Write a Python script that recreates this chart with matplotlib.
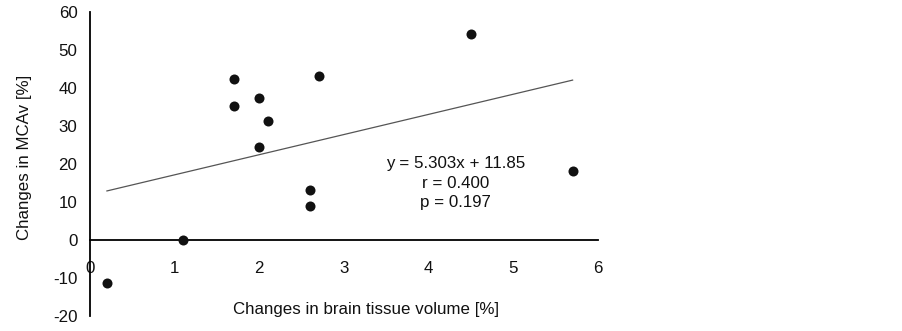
import matplotlib
matplotlib.use("Agg")
import matplotlib.pyplot as plt
import numpy as np

plt.rcParams['font.family'] = ['Liberation Sans', 'DejaVu Sans']
plt.rcParams['axes.unicode_minus'] = False

brain_volume = [0.2, 1.1, 1.7, 1.7, 2.0, 2.0, 2.1, 2.6, 2.6, 2.7, 4.5, 5.7]
mcav = [-11.3, 0.0, 42.3, 35.2, 37.3, 24.6, 31.2, 13.1, 9.0, 43.2, 54.3, 18.1]
slope = 5.303
intercept = 11.85
fit_x = [0.2, 5.7]
x_ticks = [0, 1, 2, 3, 4, 5, 6]
y_ticks = [-20, -10, 0, 10, 20, 30, 40, 50, 60]
annotation = "y = 5.303x + 11.85\nr = 0.400\np = 0.197"

fs = 12.2
fig = plt.figure(figsize=(9.03, 3.31), dpi=100)
ax = fig.add_axes([90/903, 1-316/331, (598-90)/903, (316-12)/331])

ax.scatter(brain_volume, mcav, s=52, color='#111111', zorder=3, linewidths=0)
fx = np.array(fit_x)
ax.plot(fx, slope*fx + intercept, color='#555555', linewidth=0.9, zorder=2)

ax.text(4.32, 15.0, annotation, ha='center', va='center', fontsize=fs,
        linespacing=1.36, color='#111111')

ax.set_xlim(0, 6)
ax.set_ylim(-20, 60)
ax.set_xticks(x_ticks)
ax.set_yticks(y_ticks)
ax.spines['top'].set_visible(False)
ax.spines['right'].set_visible(False)
ax.spines['bottom'].set_position(('data', 0))
ax.spines['left'].set_linewidth(1.3)
ax.spines['bottom'].set_linewidth(1.3)
ax.tick_params(axis='x', length=0, pad=15, labelsize=fs, colors='#111111')
ax.tick_params(axis='y', length=0, pad=9, labelsize=fs, colors='#111111')

ax.set_xlabel('Changes in brain tissue volume [%]', fontsize=fs, color='#111111')
ax.xaxis.set_label_coords((366-90)/508, 0.023)
ax.xaxis.label.set_va('center')
ax.set_ylabel('Changes in MCAv [%]', fontsize=fs, color='#111111')
ax.yaxis.set_label_coords((25-90)/508, (316-157)/304)
ax.yaxis.label.set_va('center')

fig.savefig('out.png', dpi=100)
